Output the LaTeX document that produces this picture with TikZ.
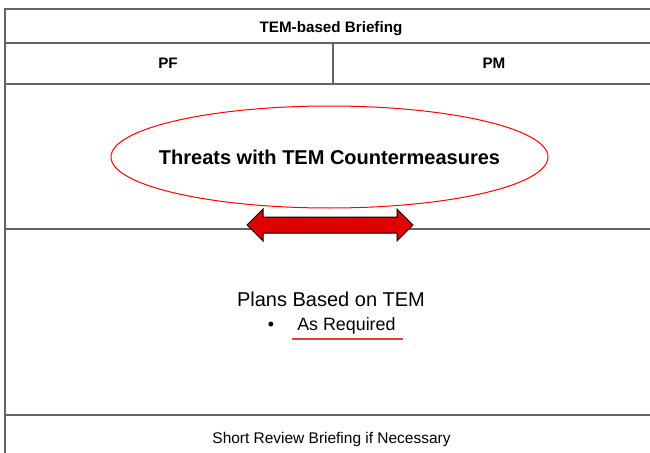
\documentclass[tikz,border=0pt]{standalone}
\usepackage{fontspec}
\setmainfont{Liberation Sans}
\usetikzlibrary{shapes.geometric}
\definecolor{framegray}{RGB}{100,100,100}
\definecolor{arrowred}{RGB}{224,0,0}
\definecolor{ulred}{RGB}{232,60,60}
\begin{document}
\begin{tikzpicture}[x=0.75pt,y=-0.75pt,
  frame/.style={draw=framegray, line width=0.9pt},
  hdr/.style={anchor=base, inner sep=0pt, font=\bfseries\fontsize{11.4}{13}\selectfont},
  plain/.style={anchor=base, inner sep=0pt, font=\fontsize{11.6}{14}\selectfont}]
\useasboundingbox (0,0) rectangle (650,453);
\fill[white] (0,0) rectangle (650,453);
\begin{scope}
\clip (0,0) rectangle (650,453);
% table frame
\draw[frame] (5,470) -- (5,9) -- (670,9);
\draw[frame] (5,43) -- (670,43);
\draw[frame] (5,84) -- (670,84);
\draw[frame] (333,43) -- (333,84);
\draw[frame] (5,229) -- (670,229);
\draw[frame] (5,415) -- (670,415);
\end{scope}
% headers
\node[hdr] (title) at (331,33) {TEM-based Briefing};
\node[hdr] (pf) at (168,69) {PF};
\node[hdr] (pm) at (494,69) {PM};
% ellipse
\node[ellipse, draw=red, line width=0.75pt, minimum width=327.75pt, minimum height=76.5pt,
  inner sep=0pt] (threats) at (329.5,157) {};
\node[inner sep=0pt, font=\bfseries\fontsize{15}{18}\selectfont] (threatstext) at (threats.center)
  {Threats with TEM Countermeasures};
% double arrow
\draw[fill=arrowred, draw=black, line width=0.75pt, line join=miter]
  (247,225) -- (263,209) -- (263,217) -- (397,217) -- (397,209) -- (413,225)
  -- (397,241) -- (397,233) -- (263,233) -- (263,241) -- cycle;
% plans
\node[anchor=base, inner sep=0pt, font=\fontsize{15}{18}\selectfont] (plans) at (331,306) {Plans Based on TEM};
\node[anchor=base, inner sep=0pt, font=\fontsize{13.4}{16}\selectfont] (bullet) at (271,330) {•};
\node[anchor=base west, inner sep=0pt, font=\fontsize{13.4}{16}\selectfont] (req) at (297,330) {As Required};
\coordinate (ulA) at (292,339);
\coordinate (ulB) at (403,339);
\draw[ulred, line width=0.9pt] (ulA) -- (ulB);
% bottom
\node[plain] (review) at (331.5,443) {Short Review Briefing if Necessary};
\end{tikzpicture}
\end{document}
